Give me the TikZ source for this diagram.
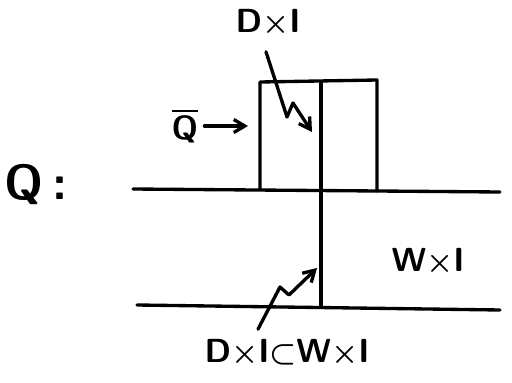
\documentclass[tikz,border=0pt]{standalone}
\usepackage{amsmath,amssymb}
\usepackage{tikz}
\usetikzlibrary{arrows.meta,positioning}

\begin{document}
\begin{tikzpicture}[
    every node/.style={font=\sffamily\bfseries\fontsize{19}{22}\selectfont},
    pen/.style={line width=1.9pt, line cap=round, line join=round},
    arr/.style={pen, -{Straight Barb[length=2.2mm, width=2.6mm]}},
  ]
  \useasboundingbox (0,0) rectangle (10.24,7.64);

  % ── Lines and box ────────────────────────────────────────────────────────

  % upper and lower line
  \draw[pen] (2.66,3.86) -- (10.0,3.80);
  \draw[pen] (2.74,1.54) -- (10.0,1.44);

  % box on the upper line
  \draw[pen] (5.2,3.85) -- (5.2,6.0) -- (7.54,6.04) -- (7.54,3.82);
  \draw[pen] (6.42,5.98) -- (6.42,1.52);

  % ── Labels ───────────────────────────────────────────────────────────────

  \node (Q)      at (0.72,3.96) {\fontsize{28}{32}\selectfont Q\,:};
  \node (Qbar)   at (3.70,5.12) {$\overline{\textsf{\bfseries Q}}$};
  \node (DI)     at (5.36,7.18) {D$\boldsymbol{\times}$I};
  \node (WI)     at (8.56,2.40) {W$\boldsymbol{\times}$I};
  \node (DsubW)  at (5.74,0.58) {D$\boldsymbol{\times}$I$\boldsymbol{\subset}$W$\boldsymbol{\times}$I};

  \coordinate (boxL)  at (4.96,5.12);
  \coordinate (topin) at (6.24,5.00);
  \coordinate (botin) at (6.34,2.28);

  % ── Arrows ───────────────────────────────────────────────────────────────

  % Qbar -> box
  \draw[arr] (Qbar.east) -- (boxL);

  % D x I -> left column (zigzag)
  \draw[arr] (DI.south) ++(-0.04,-0.18) -- (5.74,5.30) -- (5.86,5.58) -- (topin);

  % D x I < W x I -> lower column (zigzag)
  \draw[arr] (DsubW.north) ++(-0.58,0.08) -- (5.60,1.90) -- (5.78,1.74) -- (botin);

\end{tikzpicture}
\end{document}
